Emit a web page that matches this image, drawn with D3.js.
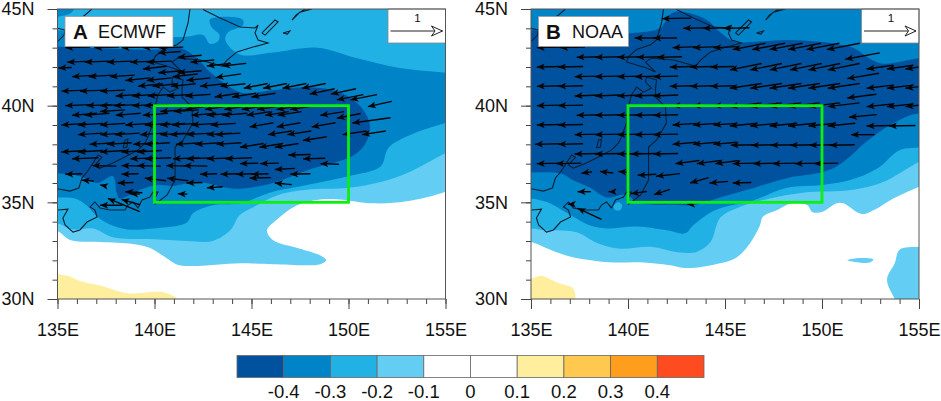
<!DOCTYPE html>
<html>
<head>
<meta charset="utf-8">
<script src="https://cdnjs.cloudflare.com/ajax/libs/d3/7.8.5/d3.min.js"></script>
<style>
  html, body { margin: 0; padding: 0; background: #fff; }
  text { font-family: "Liberation Sans", Arial, sans-serif; fill: #111; }
</style>
</head>
<body>
<div id="chart"></div>
<script>
// tick values
const lonMajor = [135, 140, 145, 150, 155];
const latMajor = [30, 35, 40, 45];
const lonMinor = d3.range(135, 156);
const latMinor = d3.range(30, 46);

// colour bar
const levels = [-0.4, -0.3, -0.2, -0.1, 0, 0.1, 0.2, 0.3, 0.4];
const levelColors = ["#00529f", "#0084c8", "#22b1e4", "#63cdf3", "#ffffff", "#ffffff", "#ffee9e", "#ffc84e", "#ff9e1c", "#ff4b20"];

// box marked on both panels: lon0, lon1, lat0, lat1
const targetBox = [140, 150, 35, 40];

// contours, [lon, lat]. ECMWF
const a01 = [[134,33.5],[135,33.5],[135.65,33.05],[137.2,32.95],[138.9,32.85],[139.75,32.65],[140.65,32.1],[141.3,31.75],[144.4,31.85],[146.1,31.8],[148.55,31.8],[148.85,32],[148.55,32.25],[147.5,32.6],[146.1,33.05],[145.8,33.55],[146.3,34.1],[147.35,34.85],[148.55,35.15],[149.55,35.15],[151.25,34.95],[153,35.05],[155,35.55],[156,36],[156,46],[134,46]];
const a02 = [[134,33.9],[135,33.9],[135.75,33.6],[136.85,33.65],[137.85,33.2],[139.75,33.1],[141.65,33],[143,33],[143.9,33.55],[144.4,34.35],[145.1,34.75],[146.45,35.4],[147.85,35.65],[150,35.75],[151.65,36.05],[153,36.5],[155,37.55],[156,38],[156,46],[134,46]];
const a03 = [[134,35.25],[135,35.25],[135.9,35.2],[136.5,34.85],[137.05,34.25],[137.7,33.85],[138.6,33.6],[139.9,33.65],[141.65,33.95],[142,34.45],[143,34.85],[144.4,34.95],[146.1,35.55],[147.85,35.9],[150,36.35],[151.65,36.85],[152.05,37.8],[153,38.4],[155,39.1],[156,39.3],[156,41.5],[155,41.7],[152.65,41.95],[150.45,42.45],[148.4,43],[146.1,42.75],[144.4,42.65],[143.65,43.4],[143.8,43.8],[144.55,44.15],[144.55,44.45],[143.55,44.6],[142.85,44.45],[142.95,44.05],[143.35,43.65],[143.25,43.3],[142.85,43.2],[142.5,43.65],[141.45,43.55],[135,43.9],[134,43.9]];
const a03b = [[134.8,45.2],[135.9,45.2],[135.7,44.8],[135,44.6],[134.8,44.6]];
const a04 = [[134,43.05],[135,43.05],[140.15,42.9],[141.3,43],[142.2,42.45],[142.85,41.75],[143.75,41.05],[144.55,40.65],[146.1,40.8],[147.85,40.95],[149.2,40.8],[150.1,40.4],[150.75,39.8],[151.1,39],[150.95,38.2],[150.6,37.7],[150,37.3],[147.85,36.65],[146.1,36],[144.4,35.7],[143.75,35.75],[142.2,36.05],[140.95,35.85],[140.15,35.9],[139.25,35.65],[138.2,35.2],[138.05,35.5],[137.85,36.35],[137.05,36],[136.15,36.35],[135,36.5],[134,36.5]];
const aPos = [[134,29.5],[134,31.2],[135.5,31.2],[136.1,30.95],[137.2,30.7],[138.6,30.3],[140.45,30.35],[141.2,30],[141.4,29.5]];

// contours, NOAA
const b01 = [[134,32.95],[135,32.95],[136,32.55],[137,32.2],[139.05,31.9],[140.6,31.9],[142.15,31.75],[143.05,31.6],[144.75,31.85],[145.6,32.15],[146.3,32.9],[146.8,33.8],[146.95,34.25],[147.7,34.6],[148.45,34.95],[149.25,34.85],[149.5,34.5],[150,34.5],[150.75,34.95],[151.1,34.95],[152.05,34.4],[152.85,34.7],[153.5,35.1],[155,35.8],[156,36.2],[156,46],[134,46]];
const b01b = [[151.3,32],[152,32.12],[152.65,32.05],[152.5,31.9],[152,31.88]];
const b01c = [[156,32.7],[155,32.7],[154,32.55],[153.75,31.85],[153.35,31],[153.75,30],[154,29.5],[156,29.5]];
const b02 = [[134,33.65],[135,33.65],[135.85,33.55],[137.35,33.45],[138.4,32.9],[139.6,32.6],[141.15,32.7],[142.7,32.4],[143.55,32.45],[144.25,32.95],[144.75,34.2],[145.6,34.7],[147.3,35.2],[149,35.5],[151.6,35.65],[153.15,36.05],[154.9,37.05],[156,37.6],[156,46],[134,46]];
const b03 = [[134,35.2],[135,35.2],[135.85,35],[136.85,34.45],[138.05,33.8],[138.9,33.65],[140.45,33.75],[142,33.55],[142.95,33.4],[143.35,33.8],[144.05,34.35],[144.75,34.7],[146.45,35.1],[148.2,35.75],[150,35.9],[151.45,36.15],[152.85,36.75],[154,37.7],[155,37.85],[156,38.1],[156,46],[134,46]];
const b02b = [[139.25,34.8],[139.5,35],[139.7,34.85],[139.6,34.6],[139.35,34.6]];
const b04 = [[134,43.9],[135,43.9],[140.1,43.75],[141.65,44],[141.9,44.3],[142.3,44.8],[142.85,44.85],[144.05,44.45],[144.75,43.8],[145.5,43.3],[146.55,43.3],[148.2,43.4],[149.9,43.3],[150.95,43.15],[151.6,43],[153,42.2],[155,42.45],[156,42.5],[156,39.2],[155,39.6],[153.35,38.9],[151.95,37.85],[151.8,37.7],[150.75,36.85],[150,36.55],[148.2,36.25],[146.15,35.65],[144.75,35.25],[143.35,34.85],[142.7,34.85],[140.45,35],[139.95,35.4],[138.9,35.25],[138.05,35.75],[137.15,36.15],[136.5,36.5],[135,36.55],[134,36.55]];
const bPos = [[134,29.5],[134,31.05],[135,31.05],[135.5,31.2],[136.35,30.85],[137.2,30.5],[137.1,29.5]];

// coastlines, same on both panels
const coastHokkaido = [[141.83,45],[141.73,44.28],[141.47,43.4],[141.16,43.15],[140.44,42.9],[140.03,42.54],[139.92,42.26],[140.44,42.1],[140.95,41.95],[141.42,41.74],[140.9,42.26],[141.2,42.46],[142.35,42.36],[143.48,42.05],[143.74,42.36],[144.25,42.78],[145.08,43.03],[145.85,43.24],[145.34,43.4],[145.18,43.76],[145.34,44.17],[145.18,44.02],[144.41,44.07],[143.38,44.53],[142.55,44.95],[142.5,45]];
const coastHonshu = [[135,35.7],[135.64,35.58],[136.1,35.74],[136.26,36.26],[136.52,36.57],[136.83,37.03],[137.09,37.45],[137.29,37.34],[136.93,36.93],[137.19,36.77],[137.86,37.03],[138.47,37.34],[139.15,37.7],[139.51,38.07],[139.66,38.38],[139.92,39.1],[140.03,39.98],[140.18,40.55],[140.44,40.96],[140.8,40.7],[141.21,40.91],[140.9,41.22],[140.95,41.48],[141.47,41.33],[141.42,40.91],[141.42,40.45],[141.93,39.93],[141.98,39.1],[141.47,38.22],[141.06,37.86],[141.06,36.15],[140.65,35.38],[140.03,34.91],[139.97,35.12],[140.18,35.53],[139.92,35.53],[139.77,35.27],[139.36,35.12],[139.15,34.71],[138.89,35.02],[138.63,34.86],[138.48,34.6],[137.7,34.6],[137.19,34.71],[136.93,35.02],[136.68,34.76],[136.93,34.6],[137.04,34.24],[136.52,33.98],[136.16,33.57],[135.8,33.46],[135.39,33.83],[135.28,34.19],[135.54,34.65],[135.03,34.6]];
const coastMainland = [[136.78,45],[136.42,44.69],[135.39,43.91],[135.34,43.65],[135.03,43.34]];
const coastMainland2 = [[135,44],[135.39,43.91]];
const coastIslands = [
    [[145.54,43.76],[146.21,44.43],[146.37,44.33],[145.7,43.65],[145.54,43.76]],
    [[147.09,44.43],[147.5,44.84],[148.12,45],[147.76,45],[147.3,44.7],[147.09,44.43]],
    [[146.62,43.76],[146.98,43.86],[146.85,43.7],[146.62,43.76]],
    [[138.38,37.81],[138.48,38.22],[138.63,38.27],[138.58,37.86],[138.38,37.81]]
];

// wind rows: [lat, u, v, head longitudes]. ECMWF
const windA = [
    [43,-.47,-.01,[135.4,136.9,138.3,139.4,140.2]],
    [42.72,-.42,-.03,[140.2]],
    [42.25,-.47,-.02,[135.5,136.4,137.55,138.75,139.6]],
    [42.5,-.45,-.04,[141.2]],
    [42.25,-.45,-.04,[141.85]],
    [42.05,-.45,-.05,[142.7,143.5]],
    [41.95,-.25,-.01,[135.05]],
    [41.9,-.45,-.05,[139.4]],
    [41.7,-.45,-.04,[140.2,141.2]],
    [41.5,-.47,-.03,[135.75,136.6,137.7]],
    [41.3,-.47,-.05,[138.5,139.6]],
    [41.5,-.47,-.05,[140.95]],
    [41.3,-.45,-.05,[141.65]],
    [41.45,-.48,-.07,[143.15]],
    [41,-.47,-.05,[139.15,139.9,140.85,142.35,143.4]],
    [40.9,-.45,-.09,[144.6,145.6,146.6,147.6]],
    [40.75,-.47,-.02,[135.2,136.15,137.2]],
    [40.5,-.47,-.03,[138,138.85,139.65,140.65,141.6]],
    [40.45,-.45,-.07,[143.1,144,145]],
    [40.6,-.47,-.1,[148,149.1]],
    [40.3,-.5,-.1,[149.4,150.1]],
    [40,-.47,-.02,[135.4,136.5,137.2,137.9,138.85,139.45]],
    [39.95,-.45,-.1,[151]],
    [39.8,-.45,-.07,[141.6,142.6,143.6,144.5,145.3,146.3,147]],
    [39.7,-.47,-.03,[137.2,140.3,141]],
    [39.5,-.47,-.04,[135.75,136.4,138,139.4,141.9,142.7,143.5]],
    [39.5,-.45,-.07,[144.75,145.7,146.35,148.55]],
    [39.35,-.45,-.09,[149.4]],
    [39.1,-.72,-.1,[150.2]],
    [39,-.47,-.03,[135.2,136.05,137.2,138.5,139.5,140.3,140.9,141.9,142.9]],
    [38.9,-.45,-.08,[144.9,146.3,148.1]],
    [38.5,-.47,-.03,[136.05,137.2,137.95,139.25,140.3,140.8,141.65,142.7,143.15]],
    [38.5,-.45,-.07,[145.85,146.85,149.7,150.7]],
    [38.2,-.45,-.07,[147.65]],
    [38,-.47,-.03,[136.65,137.55,138.9,139.5,141.1,142.1,143.2]],
    [37.85,-.45,-.07,[144.4,145.4,146.2]],
    [37.6,-.47,-.03,[135.2,136.05,137.2,138.3,139.1]],
    [37.45,-.42,-.01,[146.9]],
    [37.25,-.42,-.01,[147.65]],
    [37.25,-.5,-.02,[135.75,138.75,139.5,140.95,141.65,142.7,143.65]],
    [37,-.35,-.01,[144.4,145.45]],
    [37,-.35,.01,[148.55]],
    [36.9,-.45,.01,[136.8,138.3,139.1,140.6,141.5]],
    [36.7,-.38,-.02,[146.2]],
    [36.45,-.38,-.01,[147]],
    [36.45,-.32,-.01,[135.4,138.3,142.35,143.4,144.2,145]],
    [36.25,-.4,.05,[139.5,140.65]],
    [36.25,-.4,-.01,[144.9]],
    [36,-.32,.03,[146.2]],
    [36.15,-.23,.02,[136.25]],
    [36,-.3,-.01,[138.1,141.65]],
    [35.9,-.1,.02,[137.2]],
    [35.75,-.3,-.02,[142.7]],
    [35.55,-.32,.02,[138.5]],
    [35.45,-.18,.01,[138.75,141.2]],
    [35.2,-.6,.25,[137.6]],
    [34.85,-.42,0,[137.2]],
    [35.15,-.35,.1,[138.3]]
];

// wind rows, NOAA
const windB = [
    [44.5,-.55,-.01,[141.75]],
    [44,-.5,-.01,[142.85,143.85,144.9]],
    [43.5,-.45,0,[140.35,141.3]],
    [43,-.47,-.01,[135.3,136.5]],
    [43,-.48,-.02,[142.3,143.35,144.4]],
    [42.9,-.62,-.12,[145.4,146.4,147.3,148.25,149.2,150.25]],
    [42.5,-.47,-.01,[137.35,138.3,139.45,140.45,141.5]],
    [42.4,-.65,-.12,[151.2]],
    [42,-.47,-.01,[135.3,136.4]],
    [42,-.45,-.01,[142.15,143.2,144.25]],
    [41.85,-.6,-.12,[145.25,146.3,147.3,148.35,149.3,150.3]],
    [41.9,-.5,-.07,[152.3,153.35,154.3]],
    [41.5,-.47,-.01,[137.25,138.3,139.45,140.35,141.3]],
    [41.4,-.6,-.1,[151.3]],
    [41,-.47,-.01,[135.3,136.4]],
    [41,-.45,-.01,[142.15,143.2,144.25]],
    [40.9,-.6,-.09,[145.25,146.3,147.3,148.25,149.3,150.3]],
    [40.9,-.5,-.06,[152.3,153.35,154.3]],
    [40.5,-.47,-.02,[137.25,138.3,139.45,140.35,141.3]],
    [40.4,-.55,-.07,[151.3]],
    [40,-.47,-.01,[135.3,136.4]],
    [40,-.45,-.01,[142.3,143.35,144.4]],
    [39.95,-.6,-.07,[145.25,146.3,147.3,148.25,149.3,150.3]],
    [39.95,-.5,-.05,[152.3,153.35,154.3]],
    [39.5,-.47,-.01,[137.35,138.3,139.45,140.35,141.3]],
    [39.4,-.52,-.05,[151.4]],
    [39,-.47,-.01,[135.3,136.4]],
    [39,-.45,-.03,[142.3,143.35,144.4]],
    [38.95,-.52,-.05,[145.25,146.3,147.3,148.25,149.3,150.3]],
    [38.95,-.5,-.01,[152.3,153.45]],
    [38.5,-.47,-.01,[137.25,138.3,139.45,140.35,141.3]],
    [38.5,-.44,0,[151.5]],
    [38,-.47,-.01,[135.2,136.4]],
    [38,-.45,-.04,[142.3,143.35,144.4]],
    [37.95,-.47,-.01,[145.3,146.35,147.35,148.35,149.35,150.4]],
    [37.5,-.47,-.01,[137.25,138.3,139.45,140.15,141.3]],
    [37,-.47,-.01,[135.3,136.3]],
    [37,-.45,-.06,[142.45,143.55,144.5]],
    [37,-.45,-.01,[145.4,146.45,147.45,148.6,149.6]],
    [36.5,-.2,-.03,[137.6]],
    [36.6,-.25,.03,[138.55]],
    [36.6,-.2,.02,[139.5]],
    [36.4,-.35,-.02,[140.5]],
    [36.35,-.45,-.05,[141.45]],
    [36,-.35,-.1,[143.2]],
    [36,-.35,-.03,[144.2]],
    [36,-.35,-.01,[145.4]],
    [35.55,-.25,0,[137.4]],
    [35.55,-.12,0,[139]],
    [35.45,-.3,-.04,[140.15]],
    [35.4,-.3,-.1,[141.35]],
    [34.9,-.1,0,[143.05]],
    [34.7,-.45,.21,[137.4]],
    [34.9,-.1,0,[136.9]]
];

// reference vector
const refValue = 1;

const panels = [
    { left: 57.5, letter: "A", name: "ECMWF", nameX: 98, letterX: 73, boxW: 108,
      fills: [[a01, 3], [aPos, 6], [a02, 2], [a03, 1], [a03b, 1], [a04, 0]], wind: windA },
    { left: 531, letter: "B", name: "NOAA", nameX: 572, letterX: 546, boxW: 90,
      fills: [[b01, 3], [b01b, 3], [b01c, 3], [bPos, 6], [b02, 2], [b03, 1], [b02b, 2], [b04, 0]], wind: windB }
];

const chartW = 941, chartH = 401;
const plotW = 388, plotTop = 9, plotH = 290;
const refLen = 53; // px for one unit of the reference arrow

const svg = d3.select("#chart").append("svg")
    .attr("width", chartW)
    .attr("height", chartH)
    .style("display", "block");

const yScale = d3.scaleLinear().domain([30, 45]).range([plotTop + plotH, plotTop]);

panels.forEach((p, i) => {
    const xScale = d3.scaleLinear().domain([135, 155]).range([p.left, p.left + plotW]);
    const g = svg.append("g");

    const clipId = "clip" + i;
    svg.append("clipPath").attr("id", clipId).append("rect")
        .attr("x", p.left).attr("y", plotTop).attr("width", plotW).attr("height", plotH);

    const body = g.append("g").attr("clip-path", "url(#" + clipId + ")");

    // shaded contours, painted outermost first
    const area = d3.line()
        .x(d => xScale(d[0]))
        .y(d => yScale(d[1]))
        .curve(d3.curveCatmullRomClosed.alpha(0.5));

    p.fills.forEach(f => {
        body.append("path")
            .attr("d", area(f[0]))
            .attr("fill", levelColors[f[1]]);
    });

    // coast
    const coastLine = d3.line().x(d => xScale(d[0])).y(d => yScale(d[1]));
    [coastHokkaido, coastHonshu, coastMainland, coastMainland2].concat(coastIslands).forEach(c => {
        body.append("path")
            .attr("d", coastLine(c))
            .attr("fill", "none")
            .attr("stroke", "#0a1f30")
            .attr("stroke-width", 1.1);
    });

    // wind arrows
    const unitLon = refLen / (xScale(1) - xScale(0)) * refValue;
    const unitLat = refLen / (yScale(0) - yScale(1)) * refValue;
    const arrows = [];
    p.wind.forEach(r => r[3].forEach(lon => arrows.push({ lon: lon, lat: r[0], u: r[1], v: r[2] })));

    body.selectAll(".shaft").data(arrows).enter().append("line")
        .attr("class", "shaft")
        .attr("x1", d => xScale(d.lon))
        .attr("y1", d => yScale(d.lat))
        .attr("x2", d => xScale(d.lon - d.u * unitLon))
        .attr("y2", d => yScale(d.lat - d.v * unitLat))
        .attr("stroke", "#050505")
        .attr("stroke-width", 1.4);

    body.selectAll(".head").data(arrows).enter().append("path")
        .attr("class", "head")
        .attr("d", "M0,0L8,-3.4L6,0L8,3.4Z")
        .attr("fill", "#050505")
        .attr("transform", d => {
            const a = Math.atan2(d.v, -d.u) * 180 / Math.PI;
            return "translate(" + xScale(d.lon) + "," + yScale(d.lat) + ") rotate(" + a + ")";
        });

    // green box
    g.append("rect")
        .attr("x", xScale(targetBox[0]))
        .attr("y", yScale(targetBox[3]))
        .attr("width", xScale(targetBox[1]) - xScale(targetBox[0]))
        .attr("height", yScale(targetBox[2]) - yScale(targetBox[3]))
        .attr("fill", "none")
        .attr("stroke", "#0cf00c")
        .attr("stroke-width", 2.8);

    // panel label
    g.append("rect")
        .attr("x", p.left + 7.5).attr("y", 16.5)
        .attr("width", p.boxW).attr("height", 30)
        .attr("fill", "#fff")
        .attr("stroke", "#999")
        .attr("stroke-width", 0.8);
    g.append("text").attr("x", p.letterX).attr("y", 38.5)
        .attr("font-size", 20.5).attr("font-weight", "bold").text(p.letter);
    g.append("text").attr("x", p.nameX).attr("y", 37.5)
        .attr("font-size", 18).text(p.name);

    // reference vector
    const refX = p.left + plotW;
    g.append("rect")
        .attr("x", refX - 57.5).attr("y", plotTop)
        .attr("width", 57.5).attr("height", 34)
        .attr("fill", "#fff")
        .attr("stroke", "#888")
        .attr("stroke-width", 0.8);
    g.append("text").attr("x", refX - 28).attr("y", 21.5)
        .attr("text-anchor", "middle").attr("font-size", 11.5).text(refValue);
    g.append("line")
        .attr("x1", refX - 55).attr("x2", refX - 3).attr("y1", 31).attr("y2", 31)
        .attr("stroke", "#222").attr("stroke-width", 1);
    g.append("path")
        .attr("d", "M0,0L-11,-5L-7.5,0L-11,5Z")
        .attr("transform", "translate(" + (refX - 3) + ",31)")
        .attr("fill", "#fff").attr("stroke", "#222").attr("stroke-width", 1);

    // axes
    const xAxisMinor = d3.axisBottom(xScale).tickValues(lonMinor).tickSize(5).tickFormat("");
    const xAxisMajor = d3.axisBottom(xScale).tickValues(lonMajor).tickSize(10).tickPadding(14.5)
        .tickFormat(d => d + "E");
    const yAxisMinor = d3.axisLeft(yScale).tickValues(latMinor).tickSize(5).tickFormat("");
    const yAxisMajor = d3.axisLeft(yScale).tickValues(latMajor).tickSize(10).tickPadding(13)
        .tickFormat(d => d + "N");

    [[xAxisMinor, "x"], [xAxisMajor, "x"], [yAxisMinor, "y"], [yAxisMajor, "y"]].forEach(a => {
        const ax = g.append("g")
            .attr("transform", a[1] === "x" ? "translate(0," + (plotTop + plotH) + ")" : "translate(" + p.left + ",0)")
            .call(a[0]);
        ax.select(".domain").remove();
        ax.selectAll("line").attr("stroke", "#444").attr("stroke-width", 1);
        ax.selectAll("text")
            .attr("font-size", 18)
            .style("font-family", '"Liberation Sans", Arial, sans-serif')
            .attr("fill", "#111");
    });

    // frame
    g.append("rect")
        .attr("x", p.left).attr("y", plotTop)
        .attr("width", plotW).attr("height", plotH)
        .attr("fill", "none")
        .attr("stroke", "#555")
        .attr("stroke-width", 1);
});

// colour bar
const barScale = d3.scaleLinear().domain([-0.4, 0.4]).range([283.7, 657.3]);
const barStep = barScale(-0.3) - barScale(-0.4);

svg.append("g").selectAll("rect").data(levelColors).enter().append("rect")
    .attr("x", (d, i) => barScale(-0.4) + (i - 1) * barStep)
    .attr("y", 355.5)
    .attr("width", barStep)
    .attr("height", 22)
    .attr("fill", d => d)
    .attr("stroke", "#666")
    .attr("stroke-width", 0.8);

svg.append("g").selectAll("text").data(levels).enter().append("text")
    .attr("x", d => barScale(d))
    .attr("y", 398)
    .attr("text-anchor", "middle")
    .attr("font-size", 18.5)
    .text(d => d);
</script>
</body>
</html>
